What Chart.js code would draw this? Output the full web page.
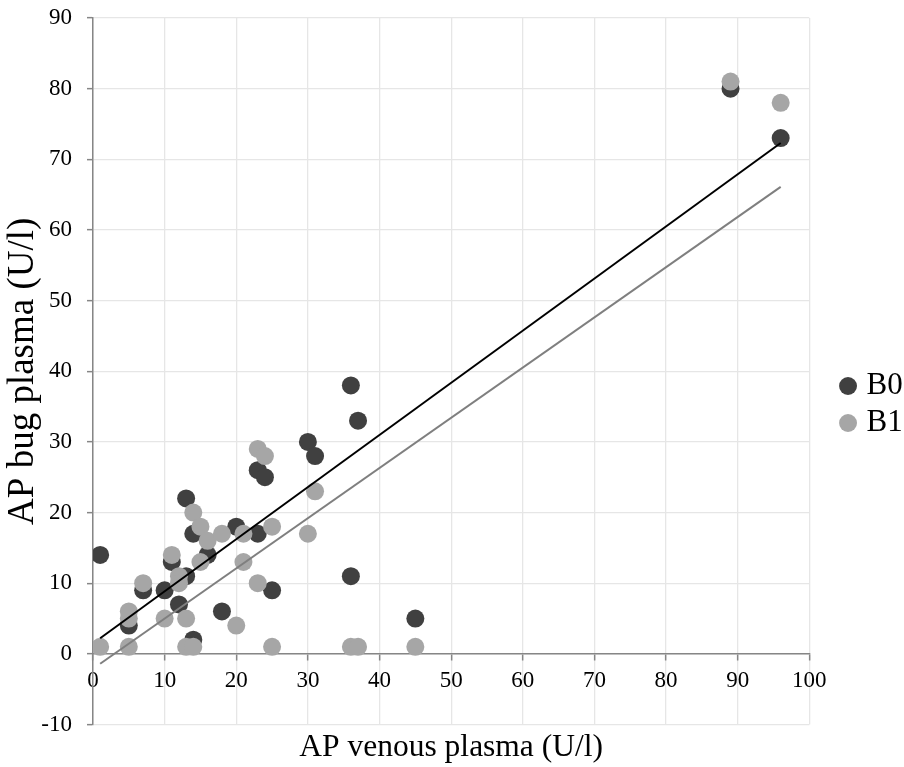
<!DOCTYPE html>
<html><head><meta charset="utf-8">
<script src="https://cdn.jsdelivr.net/npm/chart.js@4/dist/chart.umd.min.js"></script>
<style>html,body{margin:0;padding:0;background:#fff;}#wrap{width:904px;height:767px;}</style>
</head><body><div id="wrap"><canvas id="c" width="904" height="767"></canvas></div>
<script>
const seriesNames = ['B0', 'B1'];
const b0X = [1, 5, 7, 10, 11, 12, 13, 13, 14, 14, 16, 18, 20, 23, 23, 24, 25, 30, 31, 36, 37, 36, 45, 89, 96];
const b0Y = [14, 4, 9, 9, 13, 7, 11, 22, 17, 2, 14, 6, 18, 17, 26, 25, 9, 30, 28, 38, 33, 11, 5, 80, 73];
const b1X = [1, 5, 5, 5, 7, 10, 11, 12, 12, 13, 13, 14, 14, 15, 16, 15, 18, 20, 21, 21, 23, 25, 25, 23, 24, 31, 30, 36, 37, 45, 89, 96];
const b1Y = [1, 1, 5, 6, 10, 5, 14, 11, 10, 5, 1, 1, 20, 18, 16, 13, 17, 4, 17, 13, 10, 18, 1, 29, 28, 23, 17, 1, 1, 1, 81, 78];
const trendB0X = [1, 96];
const trendB0Y = [2.2, 72.3];
const trendB1X = [1, 96];
const trendB1Y = [-1.4, 66.1];
const xTitle = 'AP venous plasma (U/l)';
const yTitle = 'AP bug plasma (U/l)';

const pts = (xs, ys) => xs.map((x, i) => ({x: x, y: ys[i]}));
const FONT = 'Liberation Serif';
const axisGrey = '#868686';
const gridGrey = '#e6e6e6';

new Chart(document.getElementById('c'), {
  type: 'scatter',
  data: {
    datasets: [
      {label: seriesNames[0], data: pts(b0X, b0Y), backgroundColor: '#404040', borderWidth: 0, pointRadius: 9, pointHoverRadius: 9, order: 2},
      {label: seriesNames[1], data: pts(b1X, b1Y), backgroundColor: '#a6a6a6', borderWidth: 0, pointRadius: 9, pointHoverRadius: 9, order: 1},
      {label: 'trendB0', data: pts(trendB0X, trendB0Y), showLine: true, borderColor: '#000000', borderWidth: 2, pointRadius: 0, order: 0},
      {label: 'trendB1', data: pts(trendB1X, trendB1Y), showLine: true, borderColor: '#7f7f7f', borderWidth: 2, pointRadius: 0, order: 0}
    ]
  },
  options: {
    responsive: false,
    animation: false,
    events: [],
    layout: {padding: {top: 18, left: 4.5, right: -8.7, bottom: 0}},
    scales: {
      x: {
        type: 'linear', min: 0, max: 100, position: {y: 0},
        ticks: {stepSize: 10, font: {family: FONT, size: 23}, color: '#000', padding: 7, maxRotation: 0},
        grid: {color: gridGrey, lineWidth: 1.3, tickLength: 6, tickColor: axisGrey, tickWidth: 1.5},
        border: {color: axisGrey, width: 1.5},
        afterFit: (s) => { s.height = 0; }
      },
      y: {
        type: 'linear', min: -10, max: 90, position: 'left',
        ticks: {stepSize: 10, font: {family: FONT, size: 23}, color: '#000', padding: 15},
        grid: {color: gridGrey, lineWidth: 1.3, tickLength: 6, tickColor: axisGrey, tickWidth: 1.5},
        border: {color: axisGrey, width: 1.5},
        title: {display: true, text: yTitle, color: '#000', font: {family: FONT, size: 37, lineHeight: 1}, padding: {top: 0, bottom: 0}},
        afterFit: (s) => { s.width = 88.5; s.paddingTop = 0; s.paddingBottom = 0; }
      },
      gap: {
        type: 'linear', position: 'right', display: true,
        grid: {display: false}, ticks: {display: false}, border: {display: false},
        afterFit: (s) => { s.width = 29.7; }
      }
    },
    plugins: {
      tooltip: {enabled: false},
      title: {
        display: true, position: 'bottom', fullSize: false, text: xTitle, color: '#000',
        font: {family: FONT, size: 31.5, lineHeight: 1, weight: 'normal'}, padding: {top: 7, bottom: 4}
      },
      legend: {
        position: 'right',
        title: {display: true, text: ' ', font: {size: 12, lineHeight: 1}, padding: 6},
        labels: {
          usePointStyle: true, pointStyle: 'circle', boxWidth: 6, boxHeight: 12.7, padding: 6,
          color: '#000', font: {family: FONT, size: 31},
          filter: (item) => item.datasetIndex < 2,
          sort: (a, b) => a.datasetIndex - b.datasetIndex
        }
      }
    }
  }
});
</script>
</body></html>
